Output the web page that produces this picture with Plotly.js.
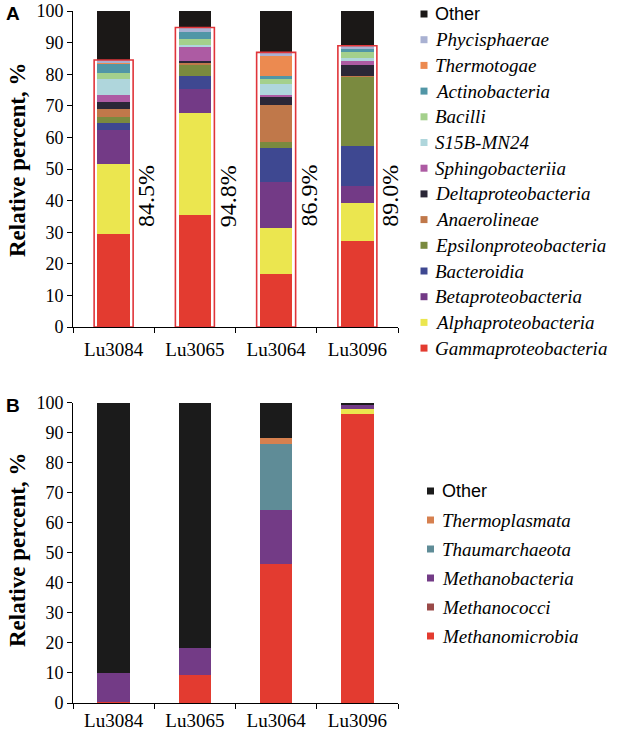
<!DOCTYPE html>
<html><head><meta charset="utf-8">
<script src="https://cdn.plot.ly/plotly-3.0.1.min.js"></script>
<style>html,body{margin:0;padding:0;background:#fff}#chart{width:622px;height:733px}</style>
</head><body><div id="chart"></div><script>
// ---------- data ----------
const categories = ['Lu3084', 'Lu3065', 'Lu3064', 'Lu3096'];

// Panel A (bacteria), bottom to top
const gammaproteobacteria   = [29.4, 35.4, 16.7, 27.3];
const alphaproteobacteria   = [22.2, 32.4, 14.5, 12.0];
const betaproteobacteria    = [10.7,  7.6, 14.8,  5.3];
const bacteroidia           = [ 2.2,  4.0, 10.5, 12.8];
const epsilonproteobacteria = [ 2.1,  3.6,  1.9, 21.7];
const anaerolineae          = [ 2.4,  0.5, 11.9,  0.2];
const deltaproteobacteria   = [ 2.2,  0.6,  2.5,  3.5];
const sphingobacteriia      = [ 2.1,  4.5,  0.7,  1.3];
const s15bMN24              = [ 5.1,  0.5,  3.5,  1.1];
const bacilli               = [ 2.1,  2.1,  1.4,  1.7];
const actinobacteria        = [ 2.7,  2.2,  1.0,  1.0];
const thermotogae           = [ 0.4,  0.1,  6.4,  0.2];
const phycisphaerae         = [ 0.9,  1.3,  1.1,  0.9];
const otherA                = [15.5,  5.2, 13.1, 11.0];
const boxedPercent          = [84.5, 94.8, 86.9, 89.0];

// Panel B (archaea), bottom to top
const methanomicrobia  = [ 0.2,  9.3, 46.1, 96.1];
const unlabelledB      = [ 0.0,  0.0,  0.0,  1.9];
const methanococci     = [ 0.0,  0.0,  0.0,  0.0];
const methanobacteria  = [ 9.8,  9.0, 18.2,  1.2];
const thaumarchaeota   = [ 0.0,  0.0, 21.9,  0.0];
const thermoplasmata   = [ 0.0,  0.0,  2.0,  0.0];
const otherB           = [90.0, 81.7, 11.8,  0.8];

// ---------- styling ----------
const SERIF = 'Liberation Serif';
const SANS = 'Liberation Sans';

const seriesA = [
  {name: 'Gammaproteobacteria', y: gammaproteobacteria, color: '#e33b30'},
  {name: 'Alphaproteobacteria', y: alphaproteobacteria, color: '#ebe64f'},
  {name: 'Betaproteobacteria', y: betaproteobacteria, color: '#733a86'},
  {name: 'Bacteroidia', y: bacteroidia, color: '#3e4891'},
  {name: 'Epsilonproteobacteria', y: epsilonproteobacteria, color: '#7a8a3f'},
  {name: 'Anaerolineae', y: anaerolineae, color: '#c0784a'},
  {name: 'Deltaproteobacteria', y: deltaproteobacteria, color: '#2b2737'},
  {name: 'Sphingobacteriia', y: sphingobacteriia, color: '#ad5ba3'},
  {name: 'S15B-MN24', y: s15bMN24, color: '#afd6dc'},
  {name: 'Bacilli', y: bacilli, color: '#a4d08c'},
  {name: 'Actinobacteria', y: actinobacteria, color: '#5196a6'},
  {name: 'Thermotogae', y: thermotogae, color: '#ec8a50'},
  {name: 'Phycisphaerae', y: phycisphaerae, color: '#a9b1d2'},
  {name: 'Other', y: otherA, color: '#1b1817'}
];
const seriesB = [
  {name: 'Methanomicrobia', y: methanomicrobia, color: '#e33b30', legend: true},
  {name: 'Unlabelled', y: unlabelledB, color: '#ebe64f', legend: false},
  {name: 'Methanococci', y: methanococci, color: '#9a4a48', legend: true},
  {name: 'Methanobacteria', y: methanobacteria, color: '#733b86', legend: true},
  {name: 'Thaumarchaeota', y: thaumarchaeota, color: '#5f8c97', legend: true},
  {name: 'Thermoplasmata', y: thermoplasmata, color: '#d6804f', legend: true},
  {name: 'Other', y: otherB, color: '#1b1b1b', legend: true}
];

const traces = [];
seriesA.forEach(s => traces.push({
  type: 'bar', x: categories, y: s.y, name: s.name, xaxis: 'x', yaxis: 'y',
  width: 0.4, marker: {color: s.color, line: {width: 0}}, showlegend: false, hoverinfo: 'skip'
}));
seriesB.forEach(s => traces.push({
  type: 'bar', x: categories, y: s.y, name: s.name, xaxis: 'x2', yaxis: 'y2',
  width: 0.4, marker: {color: s.color, line: {width: 0}}, showlegend: false, hoverinfo: 'skip'
}));

// ---------- boxes and labels ----------
const shapes = boxedPercent.map((p, i) => ({
  type: 'rect', xref: 'x', yref: 'y', x0: i - 0.24, x1: i + 0.24, y0: 0, y1: p,
  line: {color: '#e0353a', width: 1.6}, fillcolor: 'rgba(0,0,0,0)', layer: 'above'
}));

const annotations = boxedPercent.map((p, i) => ({
  xref: 'x', yref: 'y', x: i + 0.4, y: 41.5, xanchor: 'center', yanchor: 'middle',
  text: p.toFixed(1) + '%', textangle: -90,
  showarrow: false, font: {family: SERIF, size: 24, color: '#000'}
}));

// pixel -> paper helpers (plot area: x 73..398, y 11..703)
const PL = 73, PW = 325, PB = 703, PH = 692;
const px = v => (v - PL) / PW;
const py = v => (PB - v) / PH;

annotations.push(
  {xref: 'paper', yref: 'paper', x: px(17), y: py(160), xanchor: 'center', yanchor: 'middle',
   text: '<b>Relative percent, %</b>', textangle: -90, showarrow: false,
   font: {family: SERIF, size: 23, color: '#000'}},
  {xref: 'paper', yref: 'paper', x: px(17), y: py(550), xanchor: 'center', yanchor: 'middle',
   text: '<b>Relative percent, %</b>', textangle: -90, showarrow: false,
   font: {family: SERIF, size: 23, color: '#000'}},
  {xref: 'paper', yref: 'paper', x: px(13), y: py(14), xanchor: 'center', yanchor: 'middle',
   text: '<b>A</b>', showarrow: false, font: {family: SANS, size: 19, color: '#000'}},
  {xref: 'paper', yref: 'paper', x: px(13), y: py(405), xanchor: 'center', yanchor: 'middle',
   text: '<b>B</b>', showarrow: false, font: {family: SANS, size: 19, color: '#000'}}
);

// ---------- legends (drawn as swatches + text) ----------
function addLegend(list, sqX, textX, top, step) {
  list.forEach((s, k) => {
    const cy = top + k * step;
    shapes.push({type: 'rect', xref: 'paper', yref: 'paper',
      x0: px(sqX - 3.5), x1: px(sqX + 3.5), y0: py(cy + 3.5), y1: py(cy - 3.5),
      line: {width: 0}, fillcolor: s.color});
    const isOther = s.name === 'Other';
    annotations.push({xref: 'paper', yref: 'paper', x: px(textX), y: py(cy),
      xanchor: 'left', yanchor: 'middle', showarrow: false,
      text: isOther ? s.name : '<i>' + s.name + '</i>',
      font: {family: isOther ? SANS : SERIF, size: isOther ? 18 : 19, color: '#000'}});
  });
}
addLegend(seriesA.slice().reverse(), 424, 433, 14, 25.7);
addLegend(seriesB.filter(s => s.legend).reverse(), 430.5, 440, 491, 29);

const xStyle = {
  type: 'category', range: [-0.5, 3.5], showline: true, linecolor: '#000', linewidth: 1,
  ticks: 'outside', ticklen: 5, tickcolor: '#000', tickson: 'boundaries', showgrid: false,
  tickfont: {family: SERIF, size: 19, color: '#000'}, fixedrange: true
};
const yStyle = {
  range: [0, 100], dtick: 10, showline: true, linecolor: '#000', linewidth: 1,
  ticks: 'outside', ticklen: 5, tickcolor: '#000', showgrid: false, zeroline: false,
  tickfont: {family: SERIF, size: 18, color: '#000'}, fixedrange: true
};

const layout = {
  width: 622, height: 733,
  margin: {l: 73, r: 224, t: 11, b: 30},
  paper_bgcolor: '#fff', plot_bgcolor: '#fff',
  barmode: 'stack',
  showlegend: false,
  xaxis: Object.assign({}, xStyle, {domain: [0, 1], anchor: 'y', ticklabelstandoff: 5}),
  yaxis: Object.assign({}, yStyle, {domain: [py(327), 1], anchor: 'x'}),
  xaxis2: Object.assign({}, xStyle, {domain: [0, 1], anchor: 'y2', ticklabelstandoff: 0}),
  yaxis2: Object.assign({}, yStyle, {domain: [0, py(402.5)], anchor: 'x2'}),
  shapes: shapes,
  annotations: annotations
};

Plotly.newPlot('chart', traces, layout, {displayModeBar: false, staticPlot: true});
</script></body></html>
